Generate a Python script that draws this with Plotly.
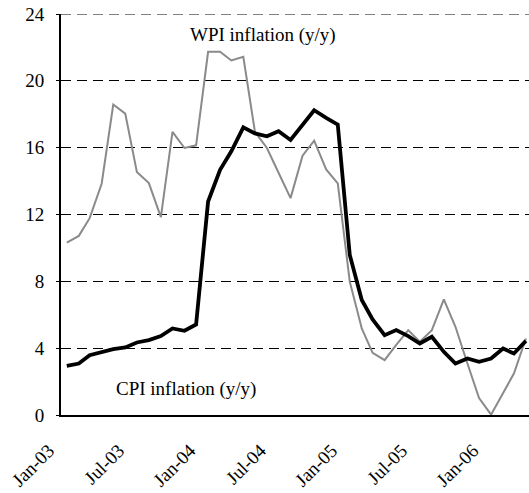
import pandas as pd
import plotly.graph_objects as go

# monthly, Jan-03 .. Apr-06
months = pd.date_range('2003-01-01', '2006-04-01', freq='MS')

cpi = [2.94, 3.08, 3.58, 3.74, 3.94, 4.04, 4.34, 4.48, 4.72, 5.18,
       5.04, 5.42, 12.78, 14.68, 15.78, 17.22, 16.85, 16.68, 16.98, 16.46,
       17.40, 18.24, 17.78, 17.38, 9.58, 6.88, 5.72, 4.78, 5.08, 4.72,
       4.28, 4.68, 3.78, 3.08, 3.38, 3.18, 3.38, 3.98, 3.68, 4.44]

wpi = [10.32, 10.72, 11.78, 13.84, 18.58, 18.04, 14.54, 13.88, 11.84, 16.94,
       15.98, 16.14, 21.74, 21.74, 21.22, 21.44, 16.95, 15.98, 14.50, 12.98,
       15.52, 16.42, 14.70, 13.86, 7.98, 5.18, 3.72, 3.28, 4.20, 5.08,
       4.38, 5.08, 6.92, 5.28, 3.08, 1.02, 0.02, 1.28, 2.48, 4.58]

tick_dates = pd.date_range('2003-01-01', '2006-01-01', freq='6MS')
tick_text = [d.strftime('%b-%y') for d in tick_dates]
y_ticks = [0, 4, 8, 12, 16, 20, 24]

FONT = 'Times New Roman, Liberation Serif, serif'

fig = go.Figure()
fig.add_trace(go.Scatter(x=months, y=wpi, mode='lines', name='WPI',
                         line=dict(color='#8a8a8a', width=2)))
fig.add_trace(go.Scatter(x=months, y=cpi, mode='lines', name='CPI',
                         line=dict(color='black', width=3.8)))

fig.add_annotation(x='2004-05-22', y=22.75, text='WPI inflation (y/y)', showarrow=False,
                   font=dict(size=19, color='black', family=FONT))
fig.add_annotation(x='2003-11-04', y=1.55, text='CPI inflation (y/y)', showarrow=False,
                   font=dict(size=19, color='black', family=FONT))

# dashed line along the top (gridline at the range end is not drawn)
fig.add_shape(type='line', xref='paper', x0=0, x1=1, yref='y', y0=24, y1=24,
              line=dict(color='black', width=1, dash='10px,6px'))

fig.update_layout(
    width=529, height=493,
    margin=dict(l=61, r=0, t=14, b=78),
    paper_bgcolor='white', plot_bgcolor='white',
    font=dict(family=FONT, size=19, color='black'),
    showlegend=False,
    xaxis=dict(type='date', range=['2002-12-17', '2006-04-09'], automargin=False,
               tickvals=tick_dates, ticktext=tick_text, tickangle=-45,
               showgrid=False, zeroline=False, showline=True, linecolor='black',
               linewidth=2, ticks='', ticklabelstandoff=15, ticklabelshift=-18,
               ticklabeloverflow='allow', tickfont=dict(size=19, family=FONT)),
    yaxis=dict(range=[0, 24], tickvals=y_ticks, automargin=False, showgrid=True,
               gridcolor='black', gridwidth=1, griddash='10px,6px', zeroline=False,
               showline=True, linecolor='black', linewidth=2, ticks='outside', ticklen=3,
               tickcolor='black', ticklabelstandoff=8, ticklabeloverflow='allow',
               tickfont=dict(size=19, family=FONT)),
)

# drop the default page margin so the figure fills the window exactly
fig.write_html('out.html', config={'displayModeBar': False},
               post_script="document.body.style.margin='0';document.body.style.overflow='hidden';")
